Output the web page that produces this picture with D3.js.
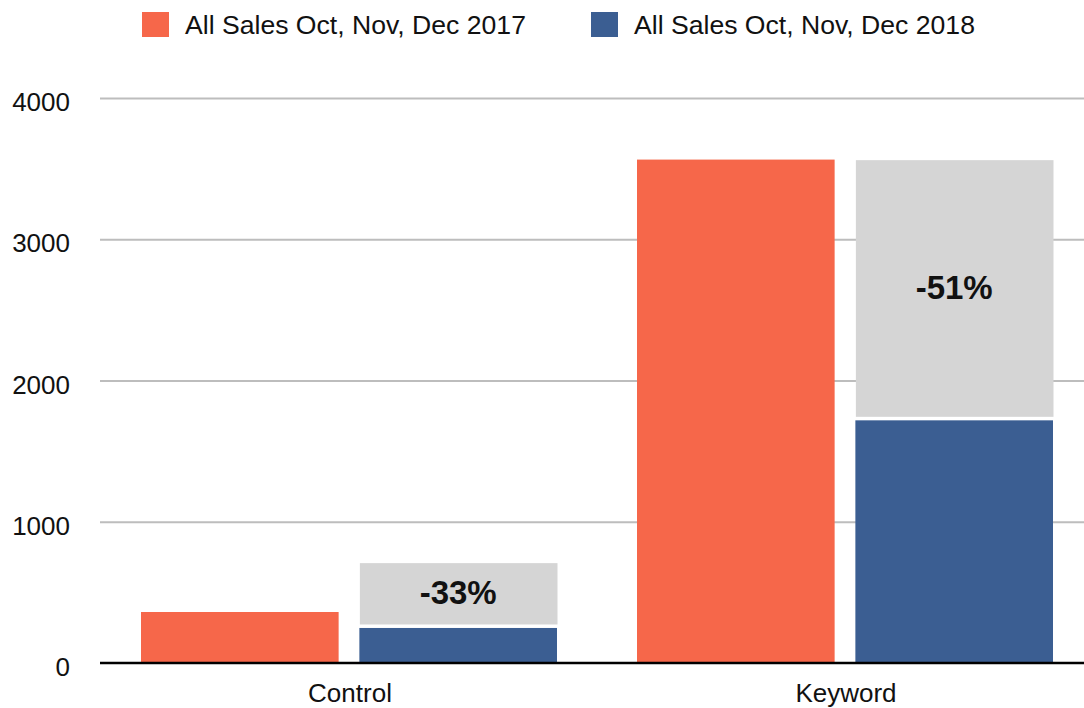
<!DOCTYPE html>
<html>
<head>
	<meta charset="utf-8">
	<title>All Sales</title>
	<script src="https://d3js.org/d3.v7.min.js"></script>
	<style>
		body { margin: 0; background: #fff; }
		svg text { font-family: "Liberation Sans", Arial, Helvetica, sans-serif; }
	</style>
</head>
<body>
	<svg id="chart" width="1084" height="708"></svg>

	<script type="text/javascript">
// data
var categories = ['Control', 'Keyword'];
var seriesNames = ['All Sales Oct, Nov, Dec 2017', 'All Sales Oct, Nov, Dec 2018'];
var sales2017 = [361, 3564];
var sales2018 = [248, 1718];
// grey block stacked on the 2018 bar
var greyBlock = [459, 1842];
var changeLabels = ['-33%', '-51%'];
var yTicks = [0, 1000, 2000, 3000, 4000];

var colors = ['#F6674A', '#3B5E92'];
var greyColor = '#D5D5D5';

var svg = d3.select('#chart');

var y = d3.scaleLinear().domain([0, 4000]).range([663, 98]);
var x0 = d3.scaleBand().domain(categories).range([102, 1094]);
var x1 = d3.scaleBand().domain(seriesNames).range([39, 455]).paddingInner(0.095);

//  gridlines
svg.append('g')
	.attr('transform', 'translate(100,0)')
	.call(d3.axisLeft(y).tickValues(yTicks.slice(1)).tickSize(-990).tickFormat(''))
	.call(function(g) {
		g.select('.domain').remove();
		g.selectAll('line').attr('stroke', '#BDBDBD').attr('stroke-width', 2);
	});

//  y labels
svg.selectAll('.ylab')
	.data(yTicks)
	.enter().append('text')
	.attr('class', 'ylab')
	.attr('x', 70)
	.attr('y', function(d) { return y(d) + 4; })
	.attr('text-anchor', 'end')
	.attr('dominant-baseline', 'central')
	.attr('font-size', 26)
	.attr('fill', '#111')
	.text(function(d) { return d; });

var rows = categories.map(function(c, i) {
	return { cat: c, a: sales2017[i], b: sales2018[i], g: greyBlock[i], label: changeLabels[i] };
});

var groups = svg.selectAll('.grp')
	.data(rows)
	.enter().append('g')
	.attr('class', 'grp')
	.attr('transform', function(d) { return 'translate(' + x0(d.cat) + ',0)'; });

groups.append('rect')
	.attr('x', x1(seriesNames[0]))
	.attr('width', x1.bandwidth())
	.attr('y', function(d) { return y(d.a); })
	.attr('height', function(d) { return y(0) - y(d.a); })
	.attr('fill', colors[0]);

groups.append('rect')
	.attr('x', x1(seriesNames[1]))
	.attr('width', x1.bandwidth())
	.attr('y', function(d) { return y(d.b); })
	.attr('height', function(d) { return y(0) - y(d.b); })
	.attr('fill', colors[1]);

groups.append('rect')
	.attr('x', x1(seriesNames[1]) + 0.5)
	.attr('width', x1.bandwidth())
	.attr('y', function(d) { return y(d.b + d.g); })
	.attr('height', function(d) { return y(d.b) - y(d.b + d.g) - 3.5; })
	.attr('fill', greyColor);

groups.append('text')
	.attr('x', x1(seriesNames[1]) + x1.bandwidth() / 2)
	.attr('y', function(d) { return (y(d.b) + y(d.b + d.g)) / 2 - 3; })
	.attr('text-anchor', 'middle')
	.attr('dominant-baseline', 'central')
	.attr('font-size', 33)
	.attr('font-weight', 'bold')
	.attr('fill', '#111')
	.text(function(d) { return d.label; });

//  x axis baseline and labels
svg.append('g')
	.attr('transform', 'translate(0,' + y(0) + ')')
	.call(d3.axisBottom(x0).tickSize(0).tickPadding(21))
	.call(function(g) {
		g.select('.domain').attr('d', 'M100,0H1084').attr('stroke', '#000').attr('stroke-width', 2.5);
		g.selectAll('text')
			.attr('font-size', 26)
			.attr('fill', '#111')
			.attr('font-family', '"Liberation Sans", Arial, sans-serif');
	});

//  legend
var legendX = [142, 591];
var legend = svg.selectAll('.leg')
	.data(seriesNames)
	.enter().append('g')
	.attr('class', 'leg')
	.attr('transform', function(d, i) { return 'translate(' + legendX[i] + ',12)'; });

legend.append('rect')
	.attr('width', 27)
	.attr('height', 25)
	.attr('fill', function(d, i) { return colors[i]; });

legend.append('text')
	.attr('x', 43)
	.attr('y', 13)
	.attr('dominant-baseline', 'central')
	.attr('font-size', 26.6)
	.attr('fill', '#111')
	.text(function(d) { return d; });
	</script>
</body>
</html>
